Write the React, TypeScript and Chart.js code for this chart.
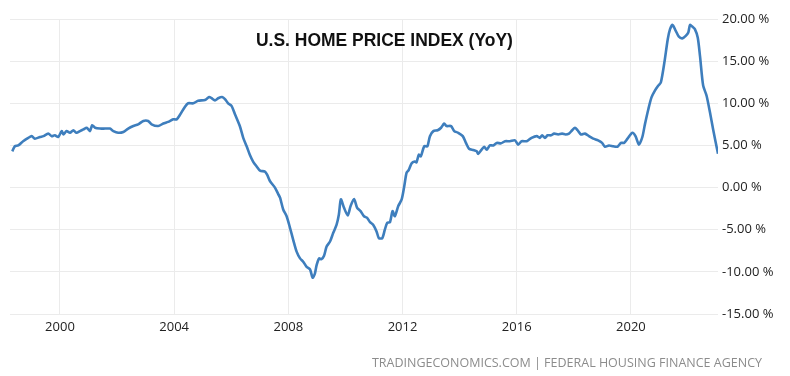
import React, { useEffect, useRef } from 'react';
import { Chart, registerables } from 'chart.js';

Chart.register(...registerables);

// Decimal year of each reading
const years = [
  1998.33, 1998.42, 1998.54, 1998.71, 1998.89, 1999.01, 1999.12, 1999.30, 1999.42, 1999.59,
  1999.71, 1999.82, 1999.94, 2000.06, 2000.12, 2000.23, 2000.35, 2000.47, 2000.58, 2000.70,
  2000.82, 2000.94, 2001.05, 2001.13, 2001.23, 2001.40, 2001.58, 2001.75, 2001.87, 2002.04,
  2002.22, 2002.39, 2002.57, 2002.74, 2002.92, 2003.09, 2003.21, 2003.44, 2003.62, 2003.79,
  2003.97, 2004.09, 2004.20, 2004.38, 2004.49, 2004.67, 2004.84, 2005.08, 2005.23, 2005.31,
  2005.43, 2005.54, 2005.68, 2005.78, 2005.89, 2006.01, 2006.13, 2006.30, 2006.42, 2006.54,
  2006.65, 2006.77, 2006.89, 2007.01, 2007.18, 2007.26, 2007.36, 2007.53, 2007.65, 2007.71,
  2007.82, 2007.94, 2008.06, 2008.17, 2008.29, 2008.41, 2008.52, 2008.64, 2008.76, 2008.85,
  2008.93, 2008.99, 2009.08, 2009.16, 2009.25, 2009.34, 2009.46, 2009.57, 2009.69, 2009.77,
  2009.84, 2009.95, 2010.08, 2010.18, 2010.30, 2010.41, 2010.53, 2010.65, 2010.76, 2010.86,
  2010.97, 2011.09, 2011.17, 2011.29, 2011.38, 2011.46, 2011.56, 2011.65, 2011.73, 2011.85,
  2011.97, 2012.06, 2012.14, 2012.22, 2012.32, 2012.43, 2012.49, 2012.57, 2012.64, 2012.76,
  2012.87, 2012.96, 2013.08, 2013.23, 2013.35, 2013.46, 2013.54, 2013.70, 2013.81, 2013.95,
  2014.11, 2014.22, 2014.33, 2014.48, 2014.60, 2014.65, 2014.77, 2014.86, 2014.95, 2015.06,
  2015.18, 2015.30, 2015.45, 2015.59, 2015.76, 2015.94, 2016.05, 2016.17, 2016.35, 2016.52,
  2016.70, 2016.81, 2016.89, 2016.99, 2017.08, 2017.20, 2017.31, 2017.45, 2017.59, 2017.71,
  2017.83, 2017.94, 2018.04, 2018.13, 2018.25, 2018.39, 2018.53, 2018.68, 2018.85, 2018.99,
  2019.09, 2019.23, 2019.38, 2019.53, 2019.65, 2019.76, 2019.88, 2020.05, 2020.16, 2020.28,
  2020.40, 2020.49, 2020.61, 2020.72, 2020.84, 2020.96, 2021.05, 2021.17, 2021.29, 2021.37,
  2021.46, 2021.57, 2021.68, 2021.80, 2021.92, 2022.01, 2022.07, 2022.15, 2022.24, 2022.34,
  2022.42, 2022.53, 2022.65, 2022.77, 2022.88, 2023.05,
];

// Year-over-year change, %
const yoy = [
  4.3, 4.9, 5.0, 5.5, 5.9, 6.1, 5.8, 6.0, 6.1, 6.4,
  6.1, 6.2, 6.0, 6.7, 6.3, 6.7, 6.5, 6.8, 6.5, 6.7,
  6.9, 7.1, 6.7, 7.4, 7.1, 7.0, 7.0, 7.0, 6.7, 6.5,
  6.6, 7.0, 7.3, 7.5, 7.9, 7.9, 7.5, 7.3, 7.6, 7.8,
  8.1, 8.1, 8.6, 9.6, 10.0, 10.0, 10.3, 10.4, 10.75, 10.6,
  10.35, 10.6, 10.75, 10.5, 10.0, 9.7, 8.7, 7.3, 5.9, 4.9,
  3.9, 3.06, 2.5, 2.0, 1.9, 1.5, 0.75, 0.0, -0.8, -1.2,
  -2.6, -3.4, -4.8, -6.2, -7.6, -8.4, -8.8, -9.4, -9.7, -10.7,
  -10.2, -9.2, -8.4, -8.5, -8.1, -7.0, -6.4, -5.4, -4.4, -3.2,
  -1.4, -2.4, -3.3, -2.2, -1.35, -2.4, -2.8, -3.4, -3.6, -4.1,
  -4.4, -5.2, -6.0, -6.0, -5.0, -4.2, -4.1, -2.8, -3.4, -2.2,
  -1.4, 0.15, 1.75, 2.1, 2.9, 3.1, 3.0, 3.9, 3.7, 4.9,
  4.9, 6.1, 6.7, 6.8, 7.1, 7.6, 7.3, 7.3, 6.7, 6.5,
  6.1, 5.3, 4.6, 4.45, 4.3, 4.0, 4.5, 4.85, 4.5, 5.0,
  5.0, 5.3, 5.25, 5.5, 5.5, 5.6, 5.1, 5.5, 5.5, 5.9,
  6.1, 5.9, 6.2, 5.9, 6.2, 6.2, 6.4, 6.3, 6.4, 6.3,
  6.4, 6.8, 7.1, 6.8, 6.3, 6.4, 6.1, 5.8, 5.6, 5.3,
  4.85, 5.0, 4.9, 4.85, 5.3, 5.3, 5.8, 6.5, 6.1, 5.1,
  6.0, 7.5, 9.3, 10.7, 11.5, 12.1, 12.5, 14.8, 17.6, 18.8,
  19.3, 18.6, 17.9, 17.7, 18.0, 18.4, 19.3, 19.1, 18.8, 17.8,
  15.6, 12.1, 10.9, 8.9, 6.9, 4.0,
];

const xTickYears = [2000, 2004, 2008, 2012, 2016, 2020];
const yMin = -15;
const yMax = 20;
const yStep = 5;
const xMin = 1998.25;
const xMax = 2023.05;

const titleText = 'U.S. HOME PRICE INDEX (YoY)';
const sourceText = 'TRADINGECONOMICS.COM | FEDERAL HOUSING FINANCE AGENCY';

export default function App() {
  const ref = useRef<HTMLCanvasElement>(null);

  useEffect(() => {
    document.body.style.margin = '0';
    const canvas = ref.current;
    if (!canvas) return;

    const textPlugin = {
      id: 'overlayTexts',
      afterDraw(chart: any) {
        const ctx = chart.ctx as CanvasRenderingContext2D;
        ctx.save();
        // Title
        ctx.fillStyle = '#111111';
        ctx.font = 'bold 17px "Liberation Sans", Arial, sans-serif';
        const tw = ctx.measureText(titleText).width;
        const tSize = 17 * 257 / tw;
        ctx.font = `bold ${tSize.toFixed(2)}px "Liberation Sans", Arial, sans-serif`;
        ctx.textAlign = 'left';
        ctx.textBaseline = 'alphabetic';
        ctx.fillText(titleText, 256, 46);
        // Source
        ctx.fillStyle = '#8c8c8c';
        ctx.font = '13px "Open Sans", sans-serif';
        const sw = ctx.measureText(sourceText).width;
        const sSize = 13 * 390 / sw;
        ctx.font = `${sSize.toFixed(2)}px "Open Sans", sans-serif`;
        ctx.textAlign = 'right';
        ctx.fillText(sourceText, 762, 367);
        ctx.restore();
      },
    };

    const chart = new Chart(canvas, {
      type: 'line',
      data: {
        datasets: [
          {
            data: years.map((y, i) => ({ x: y, y: yoy[i] })),
            borderColor: '#3e7ebd',
            borderWidth: 2.6,
            pointRadius: 0,
            tension: 0.25,
            fill: false,
          },
        ],
      },
      options: {
        responsive: false,
        animation: false,
        layout: { padding: { left: 10, top: 19, right: 0, bottom: 0 } },
        plugins: {
          legend: { display: false },
          tooltip: { enabled: false },
          title: { display: false },
        },
        scales: {
          x: {
            type: 'linear',
            min: xMin,
            max: xMax,
            border: { display: false },
            grid: { color: '#ebebeb', drawTicks: false, lineWidth: 1 },
            afterBuildTicks: (scale: any) => {
              scale.ticks = xTickYears.map((v) => ({ value: v }));
            },
            afterFit: (scale: any) => {
              scale.height = 62;
            },
            ticks: {
              autoSkip: false,
              maxRotation: 0,
              padding: 5,
              color: '#222222',
              font: { family: '"Open Sans", sans-serif', size: 13 },
              callback: (v: any) => String(v),
            },
          },
          y: {
            position: 'right',
            min: yMin,
            max: yMax,
            border: { display: false },
            grid: { color: '#ebebeb', drawTicks: false, lineWidth: 1 },
            afterFit: (scale: any) => {
              scale.width = 72;
            },
            ticks: {
              stepSize: yStep,
              padding: 4,
              color: '#222222',
              font: { family: '"Open Sans", sans-serif', size: 13 },
              callback: (v: any) => Number(v).toFixed(2) + ' %',
            },
          },
        },
      },
      plugins: [textPlugin],
    });

    return () => chart.destroy();
  }, []);

  return (
    <div style={{ width: 790, height: 376 }}>
      <canvas ref={ref} width={790} height={376} style={{ display: 'block' }} />
    </div>
  );
}
